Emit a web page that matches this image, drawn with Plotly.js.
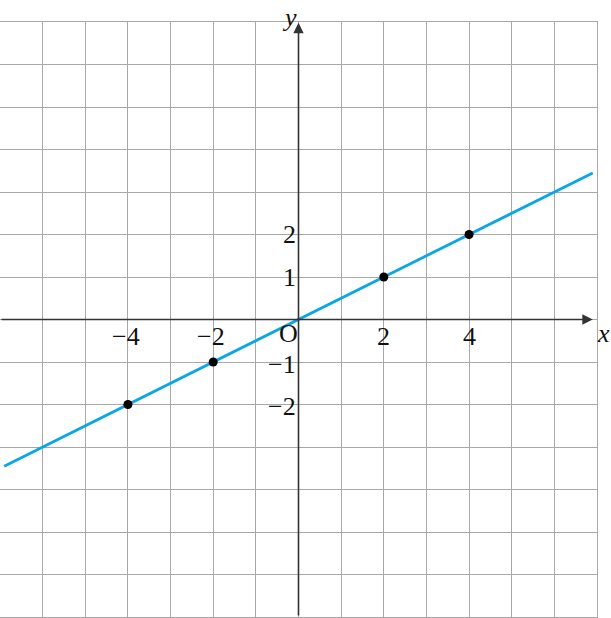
<!DOCTYPE html>
<html>
<head>
<meta charset="utf-8">
<script src="https://cdn.plot.ly/plotly-3.0.1.min.js"></script>
<style>html,body{margin:0;padding:0;background:#fff;}#chart{width:611px;height:618px;}</style>
</head>
<body>
<div id="chart"></div>
<script>
// Data
const lineX = [-6.9, 6.9];
const lineY = [-3.45, 3.45];
const pointX = [-4, -2, 2, 4];
const pointY = [-2, -1, 1, 2];
const xTickVals = [-4, -2, 2, 4];
const xTickText = ['\u22124', '\u22122', '2', '4'];
const yTickVals = [2, 1, -1, -2];
const yTickText = ['2', '1', '\u22121', '\u22122'];

const serif = 'Liberation Serif, DejaVu Serif, serif';
const labelFont = {family: serif, size: 26, color: '#111'};

const traces = [
  {x: lineX, y: lineY, mode: 'lines', line: {color: '#0aa6e6', width: 2.8}, hoverinfo: 'skip', showlegend: false},
  {x: pointX, y: pointY, mode: 'markers', marker: {color: '#000', size: 9}, hoverinfo: 'skip', showlegend: false}
];

const annotations = [];
// axis arrows
annotations.push({x: 6.9, y: 0, ax: -7, ay: 0, xref: 'x', yref: 'y', axref: 'x', ayref: 'y',
  showarrow: true, arrowhead: 2, arrowsize: 1.3, arrowwidth: 1.6, arrowcolor: '#333', text: ''});
annotations.push({x: 0, y: 6.98, ax: 0, ay: -7, xref: 'x', yref: 'y', axref: 'x', ayref: 'y',
  showarrow: true, arrowhead: 2, arrowsize: 1.3, arrowwidth: 1.6, arrowcolor: '#333', text: ''});
// x tick labels
xTickVals.forEach((v, i) => {
  annotations.push({x: v, y: 0, xref: 'x', yref: 'y', text: xTickText[i], showarrow: false,
    xanchor: 'center', yanchor: 'middle', yshift: -17, xshift: (v < 0 ? -2 : 0), font: labelFont});
});
// y tick labels
yTickVals.forEach((v, i) => {
  annotations.push({x: 0, y: v, xref: 'x', yref: 'y', text: yTickText[i], showarrow: false,
    xanchor: 'right', yanchor: 'middle', xshift: -1, yshift: (v < 0 ? -2 : 0), font: labelFont});
});
// origin
annotations.push({x: 0, y: 0, xref: 'x', yref: 'y', text: 'O', showarrow: false,
  xanchor: 'center', yanchor: 'middle', xshift: -10, yshift: -14, font: labelFont});
// axis names
annotations.push({x: 7, y: 0, xref: 'x', yref: 'y', text: '<i>x</i>', showarrow: false,
  xanchor: 'left', yanchor: 'middle', xshift: -2, yshift: -14, font: labelFont});
annotations.push({x: 0, y: 7, xref: 'x', yref: 'y', text: '<i>y</i>', showarrow: false,
  xanchor: 'right', yanchor: 'bottom', xshift: 0, yshift: -12, font: labelFont});

const axisCommon = {
  range: [-7, 7], dtick: 1, tick0: 0, showgrid: true, gridcolor: '#a8a8a8', gridwidth: 1,
  zeroline: false, showticklabels: false, ticks: '', showline: true, mirror: true,
  linecolor: '#a8a8a8', linewidth: 1, fixedrange: true
};

const layout = {
  width: 611, height: 618,
  margin: {l: 0, r: 14, t: 22, b: 1, pad: 0},
  paper_bgcolor: '#fff', plot_bgcolor: '#fff',
  xaxis: Object.assign({}, axisCommon),
  yaxis: Object.assign({}, axisCommon),
  annotations: annotations,
  showlegend: false
};

Plotly.newPlot('chart', traces, layout, {staticPlot: true, displayModeBar: false});
</script>
</body>
</html>
